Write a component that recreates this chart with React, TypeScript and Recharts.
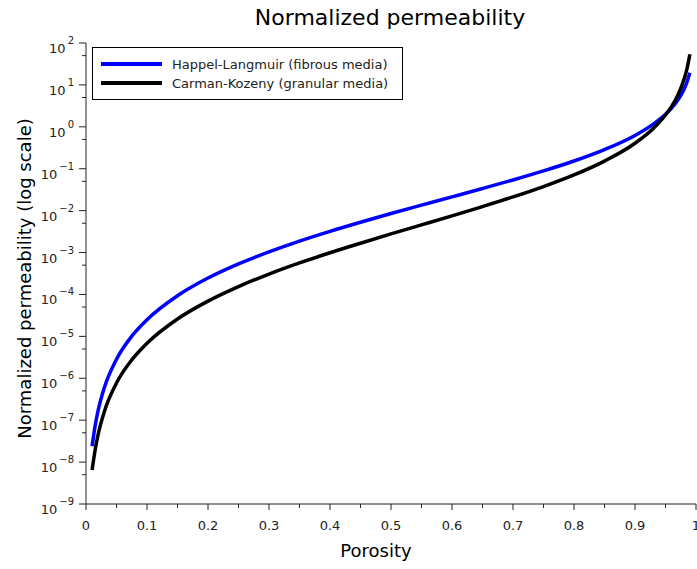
import { LineChart, Line, XAxis, YAxis, Legend, Label } from 'recharts'

const porosity = [
  0.01, 0.015, 0.02, 0.03, 0.05, 0.075, 0.1, 0.15, 0.2, 0.25, 0.3, 0.35, 0.4, 0.45, 0.5, 0.55, 0.6, 0.65, 0.7, 0.75,
  0.8, 0.85, 0.9, 0.93, 0.95, 0.96, 0.97, 0.98, 0.985, 0.99,
]
const happelLangmuir = [
  2.4e-8, 7.4e-8, 1.73e-7, 5.93e-7, 2.85e-6, 1.01e-5, 2.5e-5, 9.33e-5, 2.46e-4, 5.36e-4, 1.04e-3, 1.88e-3, 3.21e-3,
  5.29e-3, 8.52e-3, 1.35e-2, 2.13e-2, 3.37e-2, 5.4e-2, 8.88e-2, 0.153, 0.286, 0.623, 1.16, 1.99, 2.81, 4.3, 7.66, 11.4,
  19.5,
]
const carmanKozeny = [
  6.5e-9, 1.95e-8, 4.63e-8, 1.59e-7, 7.69e-7, 2.74e-6, 6.86e-6, 2.6e-5, 6.94e-5, 1.54e-4, 3.06e-4, 5.64e-4, 9.88e-4,
  1.67e-3, 2.78e-3, 4.56e-3, 7.5e-3, 1.25e-2, 2.12e-2, 3.75e-2, 7.11e-2, 0.152, 0.405, 0.912, 1.91, 3.07, 5.63, 13.1,
  23.6, 53.9,
]

const xTicks = [0, 0.05, 0.1, 0.15, 0.2, 0.25, 0.3, 0.35, 0.4, 0.45, 0.5, 0.55, 0.6, 0.65, 0.7, 0.75, 0.8, 0.85, 0.9, 0.95, 1]
const yMajorTicks = [1e-9, 1e-8, 1e-7, 1e-6, 1e-5, 1e-4, 1e-3, 1e-2, 1e-1, 1, 10, 100]
const yMinorTicks = [5e-9, 5e-8, 5e-7, 5e-6, 5e-5, 5e-4, 5e-3, 5e-2, 5e-1, 5, 50]

const seriesNames = ['Happel-Langmuir (fibrous media)', 'Carman-Kozeny (granular media)']
const seriesColors = ['#0000ff', '#000000']

const data = porosity.map((p, i) => ({ porosity: p, happel: happelLangmuir[i], carman: carmanKozeny[i] }))

const FONT = '"DejaVu Sans", Verdana, sans-serif'
const AXIS = '#222'

function XTick({ x, y, payload }: any) {
  const v = payload.value as number
  const major = Math.abs(v * 10 - Math.round(v * 10)) < 1e-6
  const txt = v === 0 ? '0' : v === 1 ? '1' : v.toFixed(1)
  return (
    <g>
      <line x1={x} x2={x} y1={y} y2={y + (major ? 6 : 4)} stroke={AXIS} />
      {major && (
        <text x={x} y={y + 26} textAnchor="middle" fontSize={13} fontFamily={FONT} fill="#222">
          {txt}
        </text>
      )}
    </g>
  )
}

function YTick({ x, y, payload }: any) {
  const v = payload.value as number
  const lg = Math.log10(v)
  const major = Math.abs(lg - Math.round(lg)) < 1e-6
  const exp = Math.round(lg)
  return (
    <g>
      <line x1={x - (major ? 7 : 4)} x2={x} y1={y} y2={y} stroke={AXIS} />
      {major && (
        <text x={x - 12} y={y + 10} textAnchor="end" fontSize={13} fontFamily={FONT} fill="#222">
          10
          <tspan dy={-9} fontSize={10} dx={2}>
            {exp < 0 ? '\u2212' + -exp : String(exp)}
          </tspan>
        </text>
      )}
    </g>
  )
}

function LegendBox() {
  return (
    <svg width={312} height={53} style={{ display: 'block' }}>
      <rect x={0.5} y={0.5} width={310} height={52} fill="#fff" stroke="#000" />
      {seriesNames.map((n, i) => (
        <g key={n}>
          <line x1={9} x2={70} y1={17 + i * 19} y2={17 + i * 19} stroke={seriesColors[i]} strokeWidth={4} />
          <text x={80} y={21.5 + i * 19} fontSize={13} fontFamily={FONT} fill="#222">
            {n}
          </text>
        </g>
      ))}
    </svg>
  )
}

export default function App() {
  return (
    <div style={{ position: 'absolute', left: 0, top: 0, width: 697, height: 569, background: '#fff' }}>
      <svg width={697} height={40} style={{ position: 'absolute', left: 0, top: 0 }}>
        <text x={390} y={25} textAnchor="middle" fontSize={22} fontFamily={FONT} fill="#000">
          Normalized permeability
        </text>
      </svg>
      <LineChart width={697} height={569} data={data} margin={{ top: 43, right: 1, bottom: 0, left: 0 }}>
        <XAxis
          type="number"
          dataKey="porosity"
          domain={[0, 1]}
          ticks={xTicks}
          interval={0}
          height={65}
          tickSize={0}
          tickMargin={0}
          tickLine={false}
          axisLine={{ stroke: AXIS }}
          tick={<XTick />}
        >
          <Label
            content={({ viewBox }: any) => (
              <text
                x={viewBox.x + viewBox.width / 2 - 15}
                y={viewBox.y + 53}
                textAnchor="middle"
                fontSize={18}
                fontFamily={FONT}
                fill="#000"
              >
                Porosity
              </text>
            )}
          />
        </XAxis>
        <YAxis
          type="number"
          scale="log"
          domain={[1e-9, 100]}
          allowDataOverflow
          ticks={[...yMajorTicks, ...yMinorTicks]}
          interval={0}
          width={86}
          tickSize={0}
          tickMargin={0}
          tickLine={false}
          axisLine={{ stroke: AXIS }}
          tick={<YTick />}
        >
          <Label
            content={({ viewBox }: any) => (
              <text
                transform={`translate(31, ${viewBox.y + viewBox.height / 2 + 5}) rotate(-90)`}
                textAnchor="middle"
                fontSize={18}
                fontFamily={FONT}
                fill="#000"
              >
                Normalized permeability (log scale)
              </text>
            )}
          />
        </YAxis>
        <Legend
          layout="horizontal"
          verticalAlign="middle"
          align="center"
          wrapperStyle={{ left: 92, top: 47, width: 312, height: 53 }}
          content={() => <LegendBox />}
        />
        <Line
          type="monotone"
          dataKey="happel"
          stroke={seriesColors[0]}
          strokeWidth={3.5}
          dot={false}
          isAnimationActive={false}
        />
        <Line
          type="monotone"
          dataKey="carman"
          stroke={seriesColors[1]}
          strokeWidth={3.5}
          dot={false}
          isAnimationActive={false}
        />
      </LineChart>
    </div>
  )
}
